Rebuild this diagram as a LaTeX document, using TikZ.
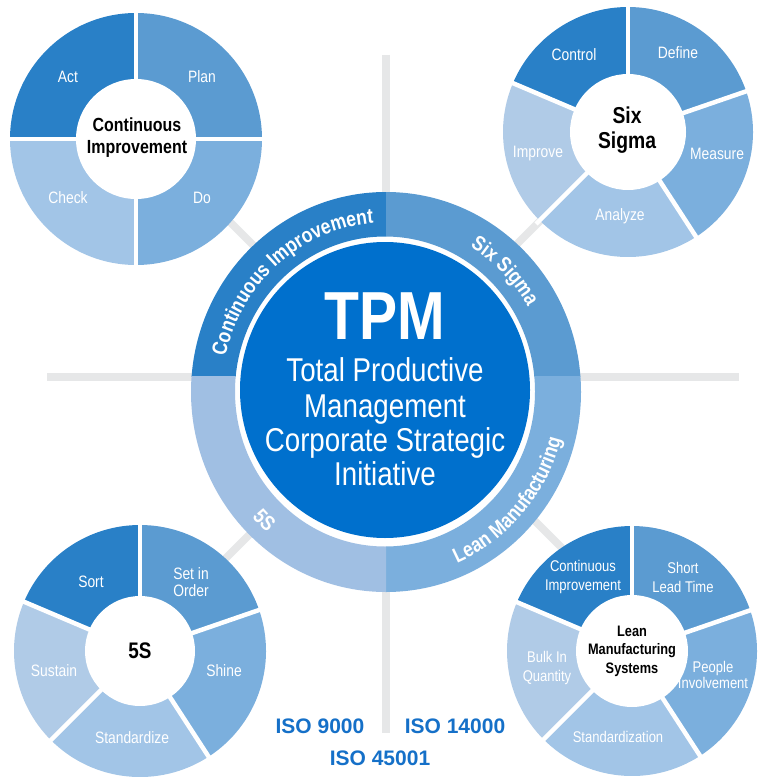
\documentclass[tikz,border=0pt]{standalone}
\usepackage{fontspec}
\setmainfont{Liberation Sans}
\newfontfamily\cf{Liberation Sans}[FakeStretch=0.84]
\usetikzlibrary{decorations.text}
\definecolor{cA}{HTML}{2980C7}
\definecolor{cB}{HTML}{5B9BD1}
\definecolor{cC}{HTML}{7BAFDD}
\definecolor{cD}{HTML}{A2C5E7}
\definecolor{cE}{HTML}{B0CBE7}
\definecolor{ringD}{HTML}{A0BFE3}
\definecolor{coreblue}{HTML}{0070CD}
\definecolor{grayline}{HTML}{E6E7E8}
\definecolor{isoblue}{HTML}{1570C8}
\newcommand{\sector}[5]{\fill[#5] (#1) -- ++(#3:#2) arc[start angle=#3, end angle=#4, radius=#2] -- cycle;}
\newcommand{\gapline}[3]{\draw[white, line width=4.5pt] (#1) -- ++(#3:#2);}
\begin{document}
\begin{tikzpicture}[x=1pt,y=1pt,
  grayl/.style={grayline, line width=7.5pt},
  lbl/.style={text=white, font=\cf\fontsize{16.5}{16.5}\selectfont, align=center, inner sep=0pt},
  lbls/.style={text=white, font=\cf\fontsize{15.5}{19}\selectfont, align=center, inner sep=0pt},
  ctr/.style={text=black, font=\cf\bfseries\fontsize{19}{22}\selectfont, align=center, inner sep=0pt},
  corel/.style={text=white, font=\cf\fontsize{33}{33}\selectfont, anchor=base, inner sep=0pt},
  isol/.style={text=isoblue, font=\bfseries\fontsize{21}{21}\selectfont, anchor=base, inner sep=0pt}]
\useasboundingbox (0,0) rectangle (765,-778);
\fill[white] (0,0) rectangle (765,-778);

\coordinate (tl) at (136,-139);
\coordinate (tr) at (628,-132);
\coordinate (bl) at (140,-651);
\coordinate (br) at (632,-651);
\coordinate (ring) at (386,-392);
\coordinate (ringin) at (385,-391.5);
\coordinate (core) at (385,-390);

% gray cross and diagonals
\draw[grayl] (386,-55) -- (386,-217);
\draw[grayl] (386,-567) -- (386,-733);
\draw[grayl] (47,-377) -- (214,-377);
\draw[grayl] (558,-377) -- (739,-377);
\draw[grayl] (208,-200) -- (272,-264);
\draw[grayl] (559,-202) -- (495,-266);
\draw[grayl] (207,-577) -- (271,-513);
\draw[grayl] (579,-565) -- (515,-501);

% top-left donut
\sector{tl}{126}{90}{180}{cA}
\sector{tl}{126}{0}{90}{cB}
\sector{tl}{126}{-90}{0}{cC}
\sector{tl}{126}{180}{270}{cD}
\foreach \a in {0,90,180,270}{\gapline{tl}{130}{\a}}
\fill[white] (tl) circle (60);
\node[lbl] (act) at (68,-77) {Act};
\node[lbl] (plan) at (202,-77) {Plan};
\node[lbl] (check) at (68,-198) {Check};
\node[lbl] (do) at (202,-198) {Do};
\node[ctr] (ci) at (137,-138) {Continuous\\Improvement};

% top-right donut
\sector{tr}{125}{90}{157}{cA}
\sector{tr}{125}{19}{90}{cB}
\sector{tr}{125}{-57}{19}{cC}
\sector{tr}{125}{-135}{-57}{cD}
\sector{tr}{125}{-203}{-135}{cE}
\foreach \a in {90,19,-57,-135,157}{\gapline{tr}{130}{\a}}
\fill[white] (tr) circle (58);
\node[lbl] (control) at (574,-55) {Control};
\node[lbl] (define) at (678,-53) {Define};
\node[lbl] (measure) at (717,-154) {Measure};
\node[lbl] (analyze) at (620,-216) {Analyze};
\node[lbl] (improve) at (538,-154) {Improve};
\node[ctr, font=\cf\bfseries\fontsize{23}{25}\selectfont] (ss) at (627,-130) {Six\\Sigma};

% bottom-left donut
\sector{bl}{126}{90}{157}{cA}
\sector{bl}{126}{19}{90}{cB}
\sector{bl}{126}{-57}{19}{cC}
\sector{bl}{126}{-135}{-57}{cD}
\sector{bl}{126}{-203}{-135}{cE}
\foreach \a in {90,19,-57,-135,157}{\gapline{bl}{131}{\a}}
\fill[white] (bl) circle (55);
\node[lbl] (sort) at (91,-582) {Sort};
\node[lbl] (setorder) at (191,-582) {Set in\\Order};
\node[lbl] (shine) at (224,-671) {Shine};
\node[lbl] (standardize) at (132,-738) {Standardize};
\node[lbl] (sustain) at (54,-671) {Sustain};
\node[ctr, font=\cf\bfseries\fontsize{22.5}{24}\selectfont] (fives) at (140,-651) {5S};

% bottom-right donut
\sector{br}{125}{90}{157}{cA}
\sector{br}{125}{19}{90}{cB}
\sector{br}{125}{-57}{19}{cC}
\sector{br}{125}{-135}{-57}{cD}
\sector{br}{125}{-203}{-135}{cE}
\foreach \a in {90,19,-57,-135,157}{\gapline{br}{130}{\a}}
\fill[white] (br) circle (56);
\node[lbls] (lci) at (583,-577) {Continuous\\Improvement};
\node[lbls] (short) at (683,-577) {Short\\Lead Time};
\node[lbls, font=\cf\fontsize{15.5}{16.5}\selectfont] (people) at (713,-675) {People\\Involvement};
\node[lbls] (standardization) at (618,-737) {Standardization};
\node[lbls] (bulk) at (547,-668) {Bulk In\\Quantity};
\node[ctr, font=\cf\bfseries\fontsize{15.2}{18.5}\selectfont] (lean) at (632,-651) {Lean\\Manufacturing\\Systems};

% central ring
\begin{scope}
  \clip (386,-376) rectangle (150,-150);
  \fill[cA, even odd rule] (ring) ellipse[x radius=195, y radius=200] (ringin) ellipse[x radius=150, y radius=155];
\end{scope}
\begin{scope}
  \clip (386,-376) rectangle (620,-150);
  \fill[cB, even odd rule] (ring) ellipse[x radius=195, y radius=200] (ringin) ellipse[x radius=150, y radius=155];
\end{scope}
\begin{scope}
  \clip (386,-376) rectangle (620,-640);
  \fill[cC, even odd rule] (ring) ellipse[x radius=195, y radius=200] (ringin) ellipse[x radius=150, y radius=155];
\end{scope}
\begin{scope}
  \clip (386,-376) rectangle (150,-640);
  \fill[ringD, even odd rule] (ring) ellipse[x radius=195, y radius=200] (ringin) ellipse[x radius=150, y radius=155];
\end{scope}
\fill[coreblue] (core) ellipse[x radius=145, y radius=148];

% ring texts
\path[decorate, decoration={text along path, text align=center,
  text={|\cf\bfseries\fontsize{21}{21}\selectfont\color{white}|Continuous Improvement}}]
  (ring) ++(176:164 and 169) arc[start angle=176, end angle=86, x radius=164, y radius=169];
\path[decorate, decoration={text along path, text align=center,
  text={|\cf\bfseries\fontsize{21}{21}\selectfont\color{white}|Six Sigma}}]
  (ring) ++(88:164 and 169) arc[start angle=88, end angle=2, x radius=164, y radius=169];
\path[decorate, decoration={text along path, text align=center,
  text={|\cf\bfseries\fontsize{21}{21}\selectfont\color{white}|Lean Manufacturing}}]
  (ring) ++(-88:181 and 186) arc[start angle=-88, end angle=6, x radius=181, y radius=186];
\path[decorate, decoration={text along path, text align=center,
  text={|\cf\bfseries\fontsize{21}{21}\selectfont\color{white}|5S}}]
  (ring) ++(-180:181 and 186) arc[start angle=-180, end angle=-88, x radius=181, y radius=186];

% core texts
\node[corel, font=\cf\bfseries\fontsize{68}{68}\selectfont] (tpm) at (385,-339) {TPM};
\node[corel] (line1) at (385,-381) {Total Productive};
\node[corel] (line2) at (385,-417) {Management};
\node[corel] (line3) at (385,-451) {Corporate Strategic};
\node[corel] (line4) at (385,-485) {Initiative};

% ISO
\node[isol] (iso1) at (320,-733) {ISO 9000};
\node[isol] (iso2) at (455,-733) {ISO 14000};
\node[isol] (iso3) at (380,-765) {ISO 45001};
\end{tikzpicture}
\end{document}
